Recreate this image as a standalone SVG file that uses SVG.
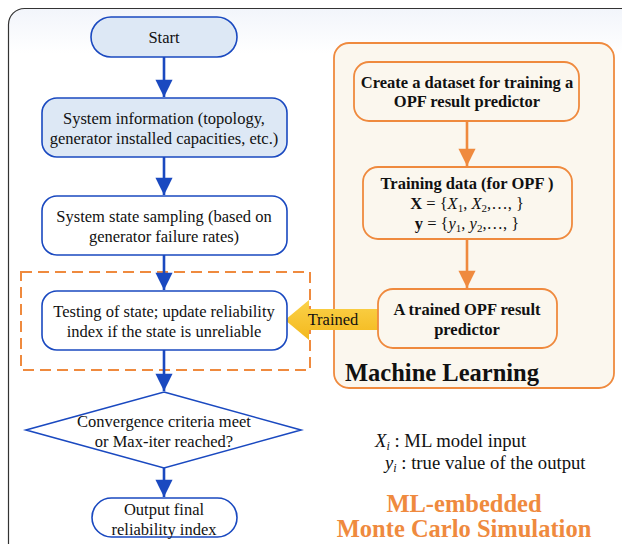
<svg xmlns="http://www.w3.org/2000/svg" width="622" height="544" viewBox="0 0 622 544">
<defs>
<style>
.t{font-family:"Liberation Serif","Times New Roman",serif;font-size:16.5px;fill:#111;text-anchor:middle}
.b{font-weight:bold}
.bn{fill:#fff;stroke:#1a49c0;stroke-width:1.6}
.bl{fill:#dde8f5;stroke:#1a49c0;stroke-width:1.6}
.on{fill:#fbf7ee;stroke:#ef8a3e;stroke-width:1.8}
.ca{stroke:#1a49c0;stroke-width:2.6;fill:none}
.oa{stroke:#ef8a3e;stroke-width:2.6;fill:none}
.lg{font-family:"Liberation Serif","Times New Roman",serif;font-size:18.7px;fill:#111}
.ttl{font-family:"Liberation Serif","Times New Roman",serif;font-size:24.5px;font-weight:bold;fill:#ef8a3e;text-anchor:middle}
</style>
<marker id="ab" viewBox="0 0 10 10" refX="10" refY="5" markerWidth="7.5" markerHeight="6.6" markerUnits="strokeWidth" orient="auto">
<path d="M0,0 L10,5 L0,10 z" fill="#1a49c0"/>
</marker>
<marker id="ao" viewBox="0 0 10 10" refX="10" refY="5" markerWidth="7.5" markerHeight="6.6" markerUnits="strokeWidth" orient="auto">
<path d="M0,0 L10,5 L0,10 z" fill="#ef8a3e"/>
</marker>
<linearGradient id="yg" x1="0" y1="0" x2="0" y2="1">
<stop offset="0" stop-color="#fbd24a"/>
<stop offset="1" stop-color="#f3b81c"/>
</linearGradient>
<linearGradient id="bg" x1="0" y1="0" x2="0" y2="1">
<stop offset="0" stop-color="#f2f5fb"/>
<stop offset="0.08" stop-color="#ffffff"/>
<stop offset="1" stop-color="#ffffff"/>
</linearGradient>
</defs>
<rect x="8.5" y="8.5" width="630" height="560" rx="16" fill="url(#bg)" stroke="#333" stroke-width="1.2"/>

<g id="ml-panel">
<rect x="334" y="43" width="280" height="345" rx="15" class="on"/>
<text x="345" y="381" font-family="Liberation Serif, serif" font-size="24.5" font-weight="bold" fill="#111">Machine Learning</text>
</g>

<g id="dashed-box">
<rect x="21" y="272" width="289" height="98" fill="none" stroke="#ef8a3e" stroke-width="2" stroke-dasharray="11,6"/>
</g>

<g id="connectors">
<line x1="164" y1="57" x2="164" y2="97" class="ca" marker-end="url(#ab)"/>
<line x1="164" y1="157" x2="164" y2="195" class="ca" marker-end="url(#ab)"/>
<line x1="164" y1="255" x2="164" y2="290" class="ca" marker-end="url(#ab)"/>
<line x1="164" y1="350" x2="164" y2="391" class="ca" marker-end="url(#ab)"/>
<line x1="164" y1="468" x2="164" y2="497" class="ca" marker-end="url(#ab)"/>
<line x1="467" y1="121" x2="467" y2="166" class="oa" marker-end="url(#ao)"/>
<line x1="467" y1="239" x2="467" y2="288" class="oa" marker-end="url(#ao)"/>
<g id="trained-arrow">
<path d="M378,309 L309,309 L309,300 L285,320 L309,340 L309,330 L378,330 z" fill="url(#yg)"/>
<text x="333" y="325" class="t">Trained</text>
</g>
</g>

<g id="start">
<rect x="91" y="17" width="146" height="40" rx="20" class="bl"/>
<text x="164" y="43" class="t">Start</text>
</g>
<g id="system-info">
<rect x="42" y="98" width="245" height="59" rx="15" class="bl"/>
<text x="164" y="124" class="t">System information (topology,</text>
<text x="164" y="144" class="t">generator installed capacities, etc.)</text>
</g>
<g id="state-sampling">
<rect x="42" y="196" width="245" height="59" rx="15" class="bn"/>
<text x="164" y="222" class="t">System state sampling (based on</text>
<text x="164" y="242" class="t">generator failure rates)</text>
</g>
<g id="testing">
<rect x="42" y="291" width="245" height="59" rx="15" class="bn"/>
<text x="164" y="317" class="t">Testing of state; update reliability</text>
<text x="164" y="337" class="t">index if the state is unreliable</text>
</g>
<g id="convergence">
<path d="M164,392 L301,430 L164,468 L26,430 z" class="bn"/>
<text x="164" y="427" class="t">Convergence criteria meet</text>
<text x="164" y="447" class="t">or Max-iter reached?</text>
</g>
<g id="output">
<rect x="92" y="498" width="145" height="39" rx="19.5" class="bn"/>
<text x="164" y="515" class="t">Output final</text>
<text x="164" y="535" class="t">reliability index</text>
</g>

<g id="create-dataset">
<rect x="354" y="62" width="225" height="59" rx="15" class="on"/>
<text x="467" y="88" class="t b">Create a dataset for training a</text>
<text x="467" y="107" class="t b">OPF result predictor</text>
</g>
<g id="training-data">
<rect x="363" y="167" width="209" height="72" rx="15" class="on"/>
<text x="467" y="189" class="t b">Training data (for OPF )</text>
<text x="467" y="209" class="t"><tspan font-weight="bold">X</tspan> = {<tspan font-style="italic">X</tspan><tspan font-size="11" dy="3">1</tspan><tspan dy="-3">, </tspan><tspan font-style="italic">X</tspan><tspan font-size="11" dy="3">2</tspan><tspan dy="-3">,…, }</tspan></text>
<text x="467" y="229" class="t"><tspan font-weight="bold">y</tspan> = {<tspan font-style="italic">y</tspan><tspan font-size="11" dy="3">1</tspan><tspan dy="-3">, </tspan><tspan font-style="italic">y</tspan><tspan font-size="11" dy="3">2</tspan><tspan dy="-3">,…, }</tspan></text>
</g>
<g id="trained-predictor">
<rect x="378" y="289" width="179" height="59" rx="15" class="on"/>
<text x="467" y="315" class="t b">A trained OPF result</text>
<text x="467" y="335" class="t b">predictor</text>
</g>

<g id="legend">
<text x="375" y="447" class="lg"><tspan font-style="italic">X</tspan><tspan font-style="italic" font-size="12" dy="3">i</tspan><tspan dy="-3"> : ML model input</tspan></text>
<text x="385" y="469" class="lg"><tspan font-style="italic">y</tspan><tspan font-style="italic" font-size="12" dy="3">i</tspan><tspan dy="-3"> : true value of the output</tspan></text>
<text x="464" y="512" class="ttl">ML-embedded</text>
<text x="464" y="537" class="ttl">Monte Carlo Simulation</text>
</g>
</svg>
